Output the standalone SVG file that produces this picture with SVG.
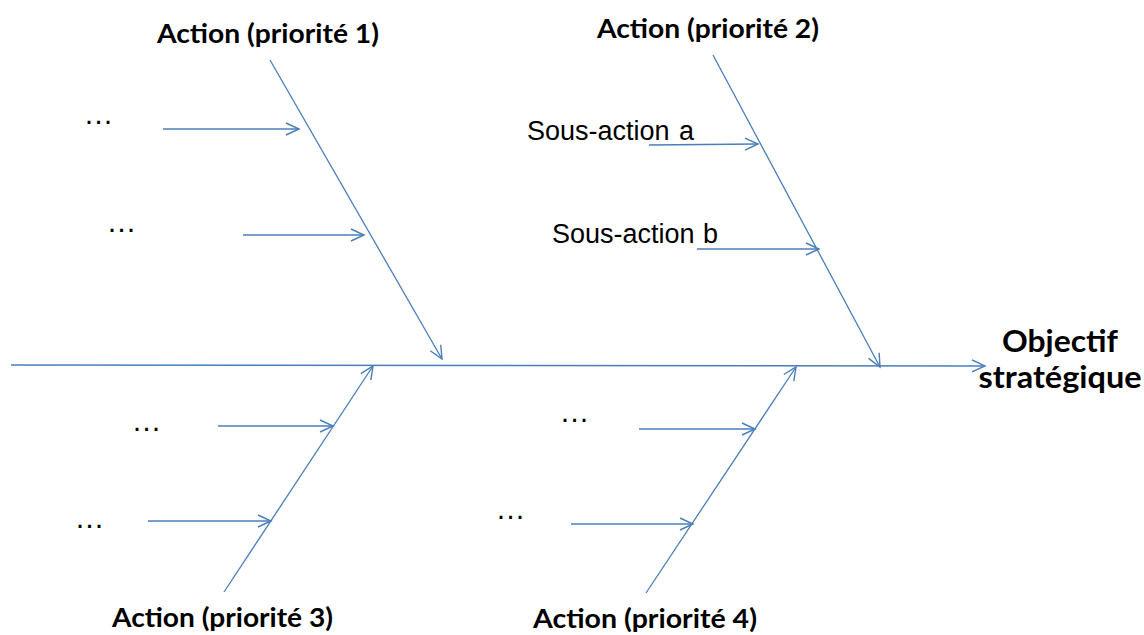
<svg xmlns="http://www.w3.org/2000/svg" width="1144" height="635" viewBox="0 0 1144 635">
  <defs>
    <marker id="open" markerUnits="userSpaceOnUse" markerWidth="16" markerHeight="16" viewBox="-14 -8 16 16" refX="0" refY="0" orient="auto">
      <path d="M-13,-6 L0,0 L-13,6" fill="none" stroke="#4a7ebb" stroke-width="1.4"/>
    </marker>
  </defs>
  <style>
    .ln { fill: none; stroke: #4a7ebb; stroke-width: 1.3; marker-end: url(#open); }
    .spine { stroke-width: 1.6; }
    .head { font-family: Lato, "Open Sans", "Liberation Sans", sans-serif; font-weight: bold; font-size: 26.5px; fill: #000; }
    .goal { font-family: Lato, "Open Sans", "Liberation Sans", sans-serif; font-weight: bold; font-size: 31px; fill: #000; }
    .sub { font-family: "Liberation Sans", Arial, sans-serif; font-size: 27px; fill: #000; }
    .dots { font-family: "Liberation Sans", Arial, sans-serif; font-size: 30px; fill: #000; }
  </style>
  <rect width="1144" height="635" fill="#fff"/>

  <!-- spine, bones and sub-arrows -->
  <g id="connectors">
    <line class="ln spine" x1="11" y1="365" x2="985" y2="366"/>
    <line class="ln" x1="270" y1="60" x2="442" y2="359"/>
    <line class="ln" x1="163" y1="129" x2="299" y2="129"/>
    <line class="ln" x1="243" y1="235" x2="364" y2="235"/>
    <line class="ln" x1="713" y1="55" x2="880" y2="367"/>
    <line class="ln" x1="649" y1="145" x2="758" y2="144"/>
    <line class="ln" x1="697" y1="249" x2="819" y2="249"/>
    <line class="ln" x1="224" y1="592" x2="373" y2="366"/>
    <line class="ln" x1="218" y1="426" x2="333" y2="426"/>
    <line class="ln" x1="148" y1="521" x2="271" y2="521"/>
    <line class="ln" x1="646" y1="593" x2="796" y2="367"/>
    <line class="ln" x1="639" y1="429" x2="755" y2="429"/>
    <line class="ln" x1="571" y1="524" x2="693" y2="524"/>
  </g>

  <g id="goal">
    <text class="goal" x="1060" y="352" text-anchor="middle" textLength="116" lengthAdjust="spacingAndGlyphs">Objectif</text>
    <text class="goal" x="1060" y="388" text-anchor="middle" textLength="163" lengthAdjust="spacingAndGlyphs">stratégique</text>
  </g>

  <g id="action1">
    <text class="head" x="157" y="43" textLength="222" lengthAdjust="spacingAndGlyphs">Action (priorité 1)</text>
    <text class="dots" x="83.5" y="124">…</text>
    <text class="dots" x="106.5" y="232">…</text>
  </g>

  <g id="action2">
    <text class="head" x="597" y="38" textLength="222" lengthAdjust="spacingAndGlyphs">Action (priorité 2)</text>
    <text class="sub" x="527" y="140">Sous-action <tspan x="679">a</tspan></text>
    <text class="sub" x="552" y="243">Sous-action <tspan x="703">b</tspan></text>
  </g>

  <g id="action3">
    <text class="head" x="112" y="627" textLength="221" lengthAdjust="spacingAndGlyphs">Action (priorité 3)</text>
    <text class="dots" x="131.5" y="431">…</text>
    <text class="dots" x="74.5" y="528">…</text>
  </g>

  <g id="action4">
    <text class="head" x="533" y="628" textLength="224" lengthAdjust="spacingAndGlyphs">Action (priorité 4)</text>
    <text class="dots" x="559.5" y="422">…</text>
    <text class="dots" x="495.5" y="519">…</text>
  </g>
</svg>
